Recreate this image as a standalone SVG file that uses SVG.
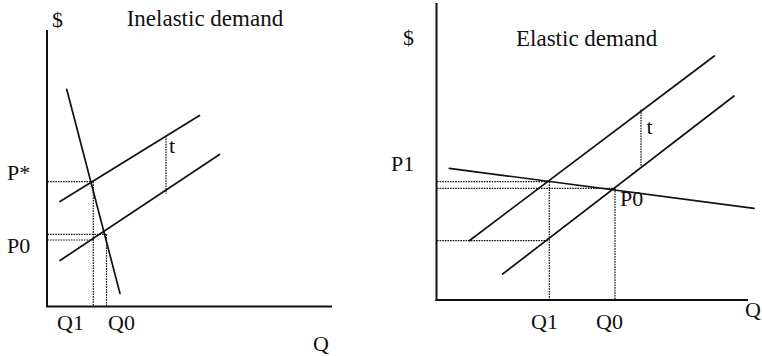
<svg xmlns="http://www.w3.org/2000/svg" width="762" height="356" viewBox="0 0 762 356">
  <style>
    .axis { stroke: #111; stroke-width: 2; fill: none; }
    .curve { stroke: #111; stroke-width: 1.7; fill: none; stroke-linecap: round; }
    .guide { stroke: #111; stroke-width: 1.2; stroke-dasharray: 1.6 1; fill: none; }
    .lbl { font-family: 'Liberation Serif', serif; font-size: 22px; fill: #111; }
    .title { font-family: 'Liberation Serif', serif; font-size: 23px; fill: #111; }
  </style>
  <rect width="762" height="356" fill="#fff"/>

  <g id="inelastic-chart">
    <g id="inelastic-axes">
      <line class="axis" x1="47" y1="30" x2="47" y2="307"/>
      <line class="axis" x1="46" y1="306.5" x2="332" y2="306.5"/>
    </g>
    <g id="inelastic-curves">
      <line class="curve" x1="66.7" y1="89.3" x2="120" y2="293.5"/>
      <line class="curve" x1="60" y1="201.5" x2="199.5" y2="115.5"/>
      <line class="curve" x1="60" y1="260.5" x2="219.5" y2="154.5"/>
    </g>
    <g id="inelastic-guides">
      <line class="guide" x1="47.5" y1="181.7" x2="93.3" y2="181.7"/>
      <line class="guide" x1="93.3" y1="181.7" x2="93.3" y2="306"/>
      <line class="guide" x1="47.5" y1="234.3" x2="106.5" y2="234.3"/>
      <line class="guide" x1="47.5" y1="240" x2="93.3" y2="240"/>
      <line class="guide" x1="106.5" y1="234.3" x2="106.5" y2="306"/>
      <line class="guide" x1="166" y1="136" x2="166" y2="194"/>
    </g>
    <g id="inelastic-labels">
      <text class="lbl" x="52" y="27">$</text>
      <text class="title" x="126.7" y="26">Inelastic demand</text>
      <text class="lbl" x="7" y="180">P*</text>
      <text class="lbl" x="7" y="253">P0</text>
      <text class="lbl" x="169" y="153">t</text>
      <text class="lbl" x="57" y="330">Q1</text>
      <text class="lbl" x="108" y="330">Q0</text>
      <text class="lbl" x="313" y="351">Q</text>
    </g>
  </g>

  <g id="elastic-chart">
    <g id="elastic-axes">
      <line class="axis" x1="436.5" y1="3" x2="436.5" y2="301"/>
      <line class="axis" x1="435.5" y1="300" x2="748" y2="300"/>
    </g>
    <g id="elastic-curves">
      <line class="curve" x1="449.3" y1="168.3" x2="754" y2="208.3"/>
      <line class="curve" x1="469.3" y1="240.7" x2="714.3" y2="56"/>
      <line class="curve" x1="502.7" y1="274" x2="734" y2="96"/>
    </g>
    <g id="elastic-guides">
      <line class="guide" x1="437" y1="181.7" x2="549.3" y2="181.7"/>
      <line class="guide" x1="437" y1="188.3" x2="615" y2="188.3"/>
      <line class="guide" x1="437" y1="240.7" x2="549.3" y2="240.7"/>
      <line class="guide" x1="549.3" y1="181.7" x2="549.3" y2="300"/>
      <line class="guide" x1="615" y1="188.3" x2="615" y2="300"/>
      <line class="guide" x1="641" y1="109.5" x2="641" y2="166"/>
    </g>
    <g id="elastic-labels">
      <text class="lbl" x="403" y="45">$</text>
      <text class="title" x="516" y="46">Elastic demand</text>
      <text class="lbl" x="391" y="170.5">P1</text>
      <text class="lbl" x="646.5" y="133.5">t</text>
      <text class="lbl" x="620" y="206">P0</text>
      <text class="lbl" x="531" y="329">Q1</text>
      <text class="lbl" x="596" y="329">Q0</text>
      <text class="lbl" x="745" y="317">Q</text>
    </g>
  </g>
</svg>
